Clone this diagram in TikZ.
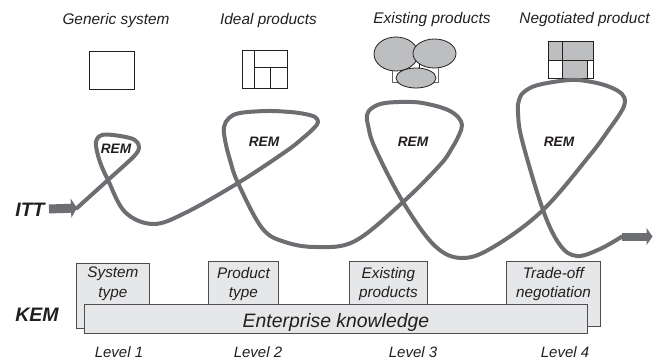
\documentclass[tikz,border=0pt]{standalone}
\usepackage{fontspec}
\setmainfont{Liberation Sans}
\usepackage{tikz}
\usetikzlibrary{arrows.meta,positioning}
\definecolor{inktone}{HTML}{231F20}
\definecolor{looptone}{HTML}{6D6E71}
\definecolor{shapetone}{HTML}{BCBEC0}
\definecolor{boxtone}{HTML}{E6E7E8}

\begin{document}
\begin{tikzpicture}[x=1pt, y=-1pt,
title/.style={anchor=base, inner sep=0pt, text=inktone, font=\fontsize{15.4}{19}\selectfont\itshape},
level/.style={anchor=base, inner sep=0pt, text=inktone, font=\fontsize{15}{19}\selectfont\itshape},
rem/.style={inner sep=0pt, text=inktone, font=\fontsize{13.7}{16}\selectfont\bfseries\itshape},
side/.style={inner sep=0pt, text=inktone, font=\fontsize{19.5}{22}\selectfont\bfseries\itshape},
tab/.style={draw=inktone!80, line width=0.9pt, fill=boxtone, anchor=north west, inner sep=0pt},
tabtext/.style={anchor=north, inner sep=0pt, align=center, text=inktone, font=\fontsize{15.3}{19.5}\selectfont\itshape},
icon/.style={draw=inktone, line width=0.9pt},
blob/.style={draw=inktone, line width=0.8pt, fill=shapetone},
loopline/.style={draw=looptone, line width=4pt, line cap=round, line join=round},
blockarrow/.style={draw=looptone, line width=9pt, -{Triangle[length=6pt,width=19pt]}}
]
\useasboundingbox (0,0) rectangle (663,362);
%Titles
\node[title]      (tgen)   at (116,24)     {Generic system};
\node[title]      (tideal) at (268.5,24)   {Ideal products};
\node[title]      (texist) at (432,23)     {Existing products};
\node[title]      (tnego)  at (584.5,23)   {Negotiated product};
%Icons
\draw[icon] (89,51) rectangle (134,89);
\draw[icon] (242,50) rectangle (287,88);
\draw[icon] (254,50) -- (254,88);
\draw[icon] (254,67) -- (287,67);
\draw[icon] (270,67) -- (270,88);
\draw[draw=inktone!70, line width=0.8pt, fill=white] (392,60) rectangle (438,82);
\draw[draw=inktone, line width=0.6pt] (419,60) -- (419,70);
\draw[blob] (396,54) ellipse [x radius=22, y radius=17];
\draw[blob] (434.5,53.5) ellipse [x radius=21.5, y radius=14.5];
\draw[blob] (416,78) ellipse [x radius=20, y radius=10];
\fill[shapetone] (548,41) rectangle (593,60);
\fill[shapetone] (562,60) rectangle (587,78);
\draw[icon] (548,41) rectangle (593,78);
\draw[icon] (548,60) -- (593,60);
\draw[icon] (562,41) -- (562,78);
\draw[icon] (587,60) -- (587,78);
%Ends of the loop line
\coordinate (ittend)  at (77,208);
\coordinate (ittbase) at (49,209);
\coordinate (outbase) at (622,236.5);
\coordinate (outend)  at (652.5,236.5);
%Lines
\draw[blockarrow] (ittbase) -- (ittend);
\draw[blockarrow, line width=8pt, -{Triangle[length=6pt,width=17pt]}] (outbase) -- (outend);
\draw[loopline] plot[smooth, tension=0.6] coordinates {(ittend) (108,180) (128,162) (136,154) (139,148) (137,142) (130,138) (113,135) (102,135) (97,139) (96,146) (100,162) (108,180) (125,212) (153,224) (185,213) (238,183) (285,152) (303,138) (314,128) (318,122) (315,117) (305,114) (290,112) (267,111) (240,113) (229,118) (224,127) (225,140) (230,160) (238,183) (262,228) (285,242) (317,247) (355,241) (403,202) (440,165) (452,148) (459,135) (462,125) (458,117) (448,110) (432,105) (413,102) (385,103) (372,108) (367,115) (368,125) (375,148) (403,202) (435,246) (463,258) (495,246) (543,210) (590,155) (610,128) (621,112) (625,102) (622,94) (610,87) (592,82) (570,80) (538,85) (524,92) (519,100) (518,112) (522,140) (543,210) (560,245) (577,256) (600,249) (outbase)};
%Rem labels
\node[rem]        (rem1)   at (116,149)    {REM};
\node[rem]        (rem2)   at (264,142)    {REM};
\node[rem]        (rem3)   at (413,142)    {REM};
\node[rem]        (rem4)   at (559,142)    {REM};
\node[side]       (itt)    at (30,210)     {ITT};
\node[side]       (kem)    at (37,315)     {KEM};
%Knowledge boxes
\node[tab, minimum width=73pt, minimum height=65pt] (sys)  at (76,263)  {};
\node[tab, minimum width=70pt, minimum height=55pt] (prod) at (208,261) {};
\node[tab, minimum width=78pt, minimum height=55pt] (ex)   at (349,261) {};
\node[tab, minimum width=94pt, minimum height=65pt] (trade) at (506,261) {};
\node[tab, minimum width=503pt, minimum height=29pt, text=inktone, text height=18pt, text depth=1pt, font=\fontsize{19.4}{22}\selectfont\itshape] (ent) at (84,304) {Enterprise knowledge};
\node[tabtext]    (systxt)   [below=4pt of sys.north]   {System\\type};
\node[tabtext]    (prodtxt)  [below=6pt of prod.north]  {Product\\type};
\node[tabtext]    (extxt)    [below=6pt of ex.north]    {Existing\\products};
\node[tabtext]    (tradetxt) [below=6pt of trade.north] {Trade-off\\negotiation};
%Levels
\node[level]      (l1)     at (119,357)    {Level 1};
\node[level]      (l2)     at (258,357)    {Level 2};
\node[level]      (l3)     at (413,357)    {Level 3};
\node[level]      (l4)     at (565,357)    {Level 4};
\end{tikzpicture}
\end{document}
